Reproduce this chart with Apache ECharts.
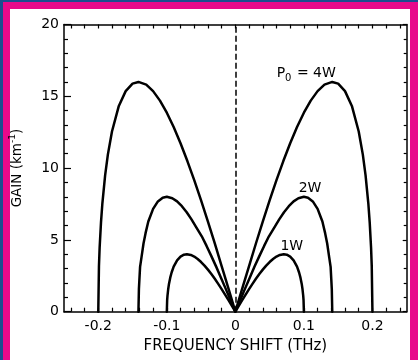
<!DOCTYPE html>
<html><head><meta charset="utf-8">
<script src="https://cdn.jsdelivr.net/npm/echarts@6/dist/echarts.min.js"></script>
<style>
html,body{margin:0;padding:0;width:418px;height:360px;overflow:hidden;background:#1b4d8e;}
#frame{position:absolute;left:3px;top:2px;width:415px;height:358px;background:#e8098a;}
#paper{position:absolute;left:10px;top:9px;width:400px;height:351px;background:#fff;}
#chart{position:absolute;left:0;top:0;width:418px;height:360px;}
</style></head><body>
<div id="frame"></div><div id="paper"></div><div id="chart"></div>
<script>
// Frequency shift (THz) and gain (km^-1)
var shift4W = [-0.2,-0.199,-0.198,-0.196,-0.194,-0.19,-0.186,-0.18,-0.17,-0.16,-0.15,-0.1414,-0.13,-0.12,-0.11,-0.10,-0.09,-0.08,-0.07,-0.06,-0.05,-0.04,-0.03,-0.02,-0.01,0,
  0.01,0.02,0.03,0.04,0.05,0.06,0.07,0.08,0.09,0.10,0.11,0.12,0.13,0.1414,0.15,0.16,0.17,0.18,0.186,0.19,0.194,0.196,0.198,0.199,0.2];
var gain4W  = [0,3.18,4.47,6.24,7.55,9.49,10.94,12.55,14.33,15.36,15.88,16.00,15.81,15.36,14.70,13.86,12.86,11.73,10.49,9.16,7.75,6.27,4.75,3.18,1.60,0,
  1.60,3.18,4.75,6.27,7.75,9.16,10.49,11.73,12.86,13.86,14.70,15.36,15.81,16.00,15.88,15.36,14.33,12.55,10.94,9.49,7.55,6.24,4.47,3.18,0];

var shift2W = [-0.1414,-0.1407,-0.140,-0.139,-0.137,-0.134,-0.131,-0.127,-0.120,-0.113,-0.106,-0.100,-0.092,-0.085,-0.078,-0.071,-0.064,-0.057,-0.049,-0.042,-0.035,-0.028,-0.021,-0.014,-0.007,0,
  0.007,0.014,0.021,0.028,0.035,0.042,0.049,0.057,0.064,0.071,0.078,0.085,0.092,0.100,0.106,0.113,0.120,0.127,0.131,0.134,0.137,0.139,0.140,0.1407,0.1414];
var gain2W  = [0,1.59,2.23,3.12,3.77,4.75,5.47,6.28,7.16,7.68,7.94,8.00,7.90,7.68,7.35,6.93,6.43,5.87,5.25,4.58,3.87,3.14,2.37,1.59,0.80,0,
  0.80,1.59,2.37,3.14,3.87,4.58,5.25,5.87,6.43,6.93,7.35,7.68,7.90,8.00,7.94,7.68,7.16,6.28,5.47,4.75,3.77,3.12,2.23,1.59,0];

var shift1W = [-0.1,-0.0995,-0.099,-0.098,-0.097,-0.095,-0.093,-0.09,-0.085,-0.08,-0.075,-0.0707,-0.065,-0.06,-0.055,-0.05,-0.045,-0.04,-0.035,-0.03,-0.025,-0.02,-0.015,-0.01,-0.005,0,
  0.005,0.01,0.015,0.02,0.025,0.03,0.035,0.04,0.045,0.05,0.055,0.06,0.065,0.0707,0.075,0.08,0.085,0.09,0.093,0.095,0.097,0.098,0.099,0.0995,0.1];
var gain1W  = [0,0.80,1.12,1.56,1.89,2.37,2.73,3.14,3.58,3.84,3.97,4.00,3.95,3.84,3.67,3.46,3.21,2.93,2.62,2.29,1.94,1.57,1.19,0.80,0.40,0,
  0.40,0.80,1.19,1.57,1.94,2.29,2.62,2.93,3.21,3.46,3.67,3.84,3.95,4.00,3.97,3.84,3.58,3.14,2.73,2.37,1.89,1.56,1.12,0.80,0];

var xTickLabels = [-0.2,-0.1,0,0.1,0.2];
var xMinorTicks = [-0.24,-0.22,-0.2,-0.18,-0.16,-0.14,-0.12,-0.1,-0.08,-0.06,-0.04,-0.02,0,0.02,0.04,0.06,0.08,0.1,0.12,0.14,0.16,0.18,0.2,0.22,0.24];
var yTickLabels = [0,5,10,15,20];

function zip(a,b){return a.map(function(v,i){return [v,b[i]];});}

var FONT = 'DejaVu Sans';
var chart = echarts.init(document.getElementById('chart'), null, {renderer:'canvas'});
var axisLineStyle = {color:'#000', width:1.5};
var curveStyle = {color:'#000', width:2.5, join:'round', cap:'round'};

function curve(name, xs, ys, extra){
  var s = {name:name, type:'line', data:zip(xs,ys), showSymbol:false, symbol:'none',
    smooth:false,
    lineStyle:curveStyle, itemStyle:{color:'#000'}, silent:true, animation:false, z:3};
  for (var k in extra) s[k]=extra[k];
  return s;
}
var labelRich = {
  t:{fontFamily:FONT, fontSize:14, color:'#000', lineHeight:20},
  sub:{fontFamily:FONT, fontSize:10, color:'#000', lineHeight:10, verticalAlign:'bottom', padding:[0,1,0,0]}
};

chart.setOption({
  animation:false,
  backgroundColor:'transparent',
  grid:{left:64, right:11.3, top:24.5, bottom:48.3, containLabel:false, outerBoundsMode:'none'},
  xAxis:[{
    type:'value', min:-0.25, max:0.25, position:'bottom',
    axisLine:{show:true, onZero:false, lineStyle:axisLineStyle},
    axisTick:{show:true, inside:true, length:4, customValues:xMinorTicks, lineStyle:{color:'#000', width:1.2}},
    axisLabel:{show:true, customValues:xTickLabels, margin:8, fontFamily:FONT, fontSize:14, color:'#000',
      formatter:function(v){return Math.abs(v)<1e-9?'0':v.toFixed(1);}},
    splitLine:{show:false},
    name:'FREQUENCY SHIFT (THz)', nameLocation:'middle', nameGap:25,
    nameTextStyle:{fontFamily:FONT, fontSize:15, color:'#000'}
  },{
    type:'value', min:-0.25, max:0.25, position:'top',
    axisLine:{show:true, onZero:false, lineStyle:axisLineStyle},
    axisTick:{show:true, inside:true, length:4, customValues:xMinorTicks, lineStyle:{color:'#000', width:1.2}},
    axisLabel:{show:false}, splitLine:{show:false}
  }],
  yAxis:[{
    type:'value', min:0, max:20, interval:5, position:'left',
    axisLine:{show:true, onZero:false, lineStyle:axisLineStyle},
    axisTick:{show:true, inside:true, length:7, lineStyle:{color:'#000', width:1.2}},
    minorTick:{show:true, splitNumber:5, length:4, lineStyle:{color:'#000', width:1.2}},
    axisLabel:{show:true, margin:5, fontFamily:FONT, fontSize:14, color:'#000',
      formatter:function(v){return yTickLabels.indexOf(v)>=0?String(v):'';}},
    splitLine:{show:false},
    name:'{t|GAIN (km}{sup|-1}{t|)}', nameLocation:'middle', nameGap:38, nameRotate:90,
    nameTextStyle:{fontFamily:FONT, fontSize:13, color:'#000',
      rich:{
        t:{fontFamily:FONT, fontSize:13.5, color:'#000', lineHeight:18},
        sup:{fontFamily:FONT, fontSize:9, color:'#000', lineHeight:9, verticalAlign:'top'}
      }}
  },{
    type:'value', min:0, max:20, interval:5, position:'right',
    axisLine:{show:true, onZero:false, lineStyle:axisLineStyle},
    axisTick:{show:true, inside:true, length:4, lineStyle:{color:'#000', width:1.2}},
    minorTick:{show:true, splitNumber:5, length:3, lineStyle:{color:'#000', width:1.2}},
    axisLabel:{show:false}, splitLine:{show:false}
  }],
  series:[
    curve('4W', shift4W, gain4W, {
      markLine:{silent:true, symbol:'none', animation:false, label:{show:false},
        lineStyle:{type:[6,3], color:'#000', width:1.5}, data:[{xAxis:0}]},
      markPoint:{silent:true, animation:false, symbol:'circle', symbolSize:0,
        data:[{coord:[0.1034,16.6], label:{show:true, position:'inside', formatter:'{t|P}{sub|0}{t| = 4W}', rich:labelRich}}]}
    }),
    curve('2W', shift2W, gain2W, {
      markPoint:{silent:true, animation:false, symbol:'circle', symbolSize:0,
        data:[{coord:[0.109,8.6], label:{show:true, position:'inside', formatter:'{t|2W}', rich:labelRich}}]}
    }),
    curve('1W', shift1W, gain1W, {
      markPoint:{silent:true, animation:false, symbol:'circle', symbolSize:0,
        data:[{coord:[0.0823,4.57], label:{show:true, position:'inside', formatter:'{t|1W}', rich:labelRich}}]}
    })
  ]
});
</script></body></html>
